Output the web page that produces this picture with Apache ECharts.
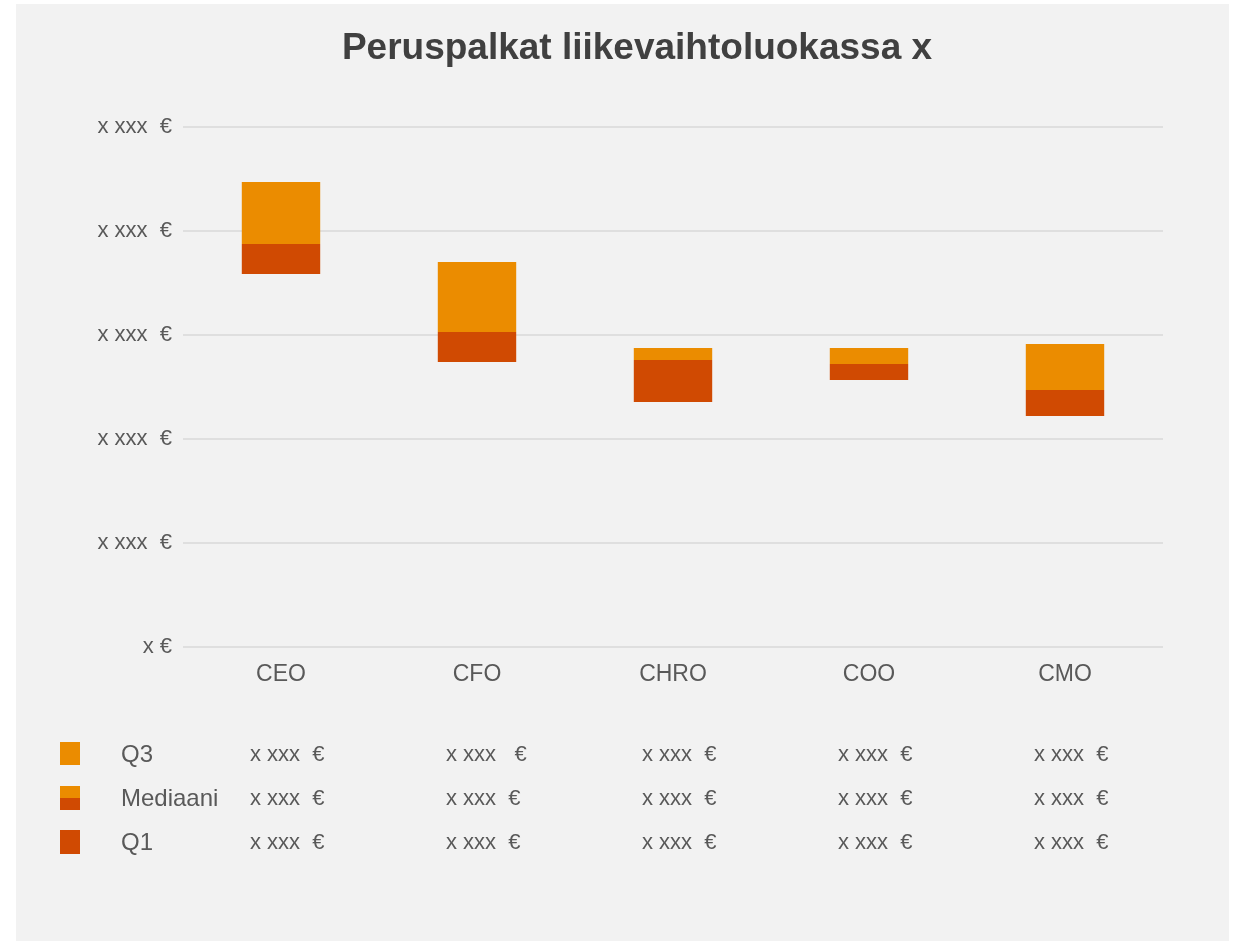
<!DOCTYPE html>
<html>
<head>
<meta charset="utf-8">
<script src="https://cdn.jsdelivr.net/npm/echarts@6/dist/echarts.min.js"></script>
<style>
html,body{margin:0;padding:0;background:#ffffff;}
#chart{width:1237px;height:941px;}
</style>
</head>
<body>
<div id="chart"></div>
<script>
// ---- Data ----
var categories = ["CEO", "CFO", "CHRO", "COO", "CMO"];
var q1Values = [3584, 2738, 2353, 2565, 2218];
var medianValues = [3872, 3026, 2757, 2718, 2468];
var q3Values = [4468, 3699, 2872, 2872, 2911];
var yTickLabels = ["x €", "x xxx  €", "x xxx  €", "x xxx  €", "x xxx  €", "x xxx  €"];
var tableQ3 = ["x xxx  €", "x xxx   €", "x xxx  €", "x xxx  €", "x xxx  €"];
var tableMedian = ["x xxx  €", "x xxx  €", "x xxx  €", "x xxx  €", "x xxx  €"];
var tableQ1 = ["x xxx  €", "x xxx  €", "x xxx  €", "x xxx  €", "x xxx  €"];
var legendNames = ["Q3", "Mediaani", "Q1"];
var titleText = "Peruspalkat liikevaihtoluokassa x";

var ORANGE = "#EB8C00", DARK = "#D04A02", TXT = "#595959";
var FONT = "'Liberation Sans', Arial, sans-serif";

var lowerSeg = medianValues.map(function (m, i) { return m - q1Values[i]; });
var upperSeg = q3Values.map(function (q, i) { return q - medianValues[i]; });

var chart = echarts.init(document.getElementById("chart"), null, {renderer: "canvas"});

var option = {
  animation: false,
  backgroundColor: "#ffffff",
  grid: {left: 183, right: 74, top: 126.7, height: 520, containLabel: false},
  xAxis: {
    type: "category",
    data: categories,
    axisLine: {show: false},
    axisTick: {show: false},
    axisLabel: {color: TXT, fontSize: 23, fontFamily: FONT, margin: 16}
  },
  yAxis: {
    type: "value",
    min: 0, max: 5000, interval: 1000,
    axisLine: {show: false},
    axisTick: {show: false},
    splitLine: {lineStyle: {color: "#D9D9D9", width: 1.5}},
    axisLabel: {
      color: TXT, fontSize: 22, fontFamily: FONT, margin: 11,
      formatter: function (v) { return yTickLabels[Math.round(v / 1000)]; }
    }
  },
  series: [
    {name: "base", type: "bar", stack: "s", data: q1Values, barWidth: "40%",
     itemStyle: {color: "rgba(0,0,0,0)"}, silent: true},
    {name: "Mediaani", type: "bar", stack: "s", data: lowerSeg, barWidth: "40%",
     itemStyle: {color: DARK}},
    {name: "Q3", type: "bar", stack: "s", data: upperSeg, barWidth: "40%",
     itemStyle: {color: ORANGE}}
  ]
};
chart.setOption(option);

// ---- Graphic: background panel, title, data table ----
var g = [];
g.push({type: "rect", z: -10, silent: true, shape: {x: 16, y: 4, width: 1213, height: 937},
        style: {fill: "#F2F2F2"}});
g.push({type: "text", z: 10, style: {x: 637, y: 49, text: titleText, fill: "#404040",
        font: "bold 37px " + FONT, textAlign: "center", textVerticalAlign: "middle"}});

// legend keys
g.push({type: "rect", z: 10, shape: {x: 60, y: 742, width: 20, height: 23}, style: {fill: ORANGE}});
g.push({type: "rect", z: 10, shape: {x: 60, y: 786, width: 20, height: 12}, style: {fill: ORANGE}});
g.push({type: "rect", z: 10, shape: {x: 60, y: 798, width: 20, height: 12}, style: {fill: DARK}});
g.push({type: "rect", z: 10, shape: {x: 60, y: 830, width: 20, height: 24}, style: {fill: DARK}});

var rowY = [755, 799, 843];
var rows = [tableQ3, tableMedian, tableQ1];
legendNames.forEach(function (n, r) {
  g.push({type: "text", z: 10, style: {x: 121, y: rowY[r], text: n, fill: TXT,
          font: "24px " + FONT, textAlign: "left", textVerticalAlign: "middle"}});
});
categories.forEach(function (c, i) {
  var px = chart.convertToPixel({xAxisIndex: 0}, c);
  rows.forEach(function (arr, r) {
    g.push({type: "text", z: 10, style: {x: px - 31, y: rowY[r], text: arr[i], fill: TXT,
            font: "22px " + FONT, textAlign: "left", textVerticalAlign: "middle"}});
  });
});
chart.setOption({graphic: g});
</script>
</body>
</html>
